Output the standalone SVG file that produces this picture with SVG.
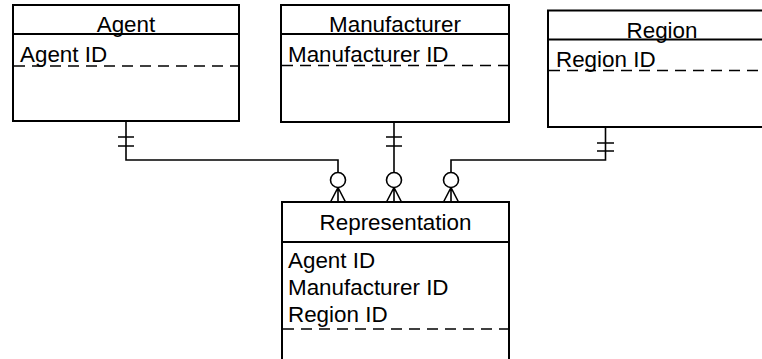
<svg xmlns="http://www.w3.org/2000/svg" width="762" height="359" viewBox="0 0 762 359">
<style>
.box{fill:#fff;stroke:#000;stroke-width:2}
.sep{stroke:#000;stroke-width:2;fill:none}
.dash{stroke:#000;stroke-width:1.6;stroke-dasharray:11 7;fill:none}
.t{font-family:"Liberation Sans",Arial,sans-serif;font-size:22.4px;fill:#000}
.c{text-anchor:middle}
.ln{stroke:#000;stroke-width:1.6;fill:none}
.circ{fill:#fff;stroke:#000;stroke-width:1.6}
</style>
<g id="connectors">
<path class="ln" d="M126,121 V160 H338 V172"/>
<path class="ln" d="M118,137 H134 M118,146 H134"/>
<path class="ln" d="M394,122 V172"/>
<path class="ln" d="M386,137 H402 M386,146 H402"/>
<path class="ln" d="M605.5,127 V160 H451 V172"/>
<path class="ln" d="M597,143 H614 M597,151 H614"/>
<circle class="circ" cx="338" cy="180" r="7.5"/>
<circle class="circ" cx="394" cy="180" r="7.5"/>
<circle class="circ" cx="451" cy="180" r="7.5"/>
<path class="ln" d="M338,187.5 L330.5,202 M338,187.5 V202 M338,187.5 L345.5,202"/>
<path class="ln" d="M394,187.5 L386.5,202 M394,187.5 V202 M394,187.5 L401.5,202"/>
<path class="ln" d="M451,187.5 L443.5,202 M451,187.5 V202 M451,187.5 L458.5,202"/>
</g>
<g id="agent">
<rect class="box" x="13" y="5" width="226" height="116"/>
<line class="sep" x1="13" y1="34" x2="239" y2="34"/>
<line class="dash" x1="14" y1="66" x2="238" y2="66"/>
<text class="t c" x="126" y="32">Agent</text>
<text class="t" x="20" y="62">Agent ID</text>
</g>
<g id="manufacturer">
<rect class="box" x="281" y="5" width="228" height="117"/>
<line class="sep" x1="281" y1="34" x2="509" y2="34"/>
<line class="dash" x1="282" y1="65.5" x2="508" y2="65.5"/>
<text class="t c" x="395" y="32">Manufacturer</text>
<text class="t" x="288" y="62">Manufacturer ID</text>
</g>
<g id="region">
<rect class="box" x="548" y="10.5" width="228" height="116.5"/>
<line class="sep" x1="548" y1="39.5" x2="776" y2="39.5"/>
<line class="dash" x1="549" y1="70.5" x2="775" y2="70.5"/>
<text class="t c" x="662" y="38">Region</text>
<text class="t" x="556" y="67">Region ID</text>
</g>
<g id="representation">
<rect class="box" x="282" y="202" width="227" height="170"/>
<line class="sep" x1="282" y1="242" x2="509" y2="242"/>
<line class="dash" x1="283" y1="329" x2="508" y2="329"/>
<text class="t c" x="395.5" y="230">Representation</text>
<text class="t" x="288" y="268">Agent ID</text>
<text class="t" x="288" y="295">Manufacturer ID</text>
<text class="t" x="288" y="322">Region ID</text>
</g>
</svg>
